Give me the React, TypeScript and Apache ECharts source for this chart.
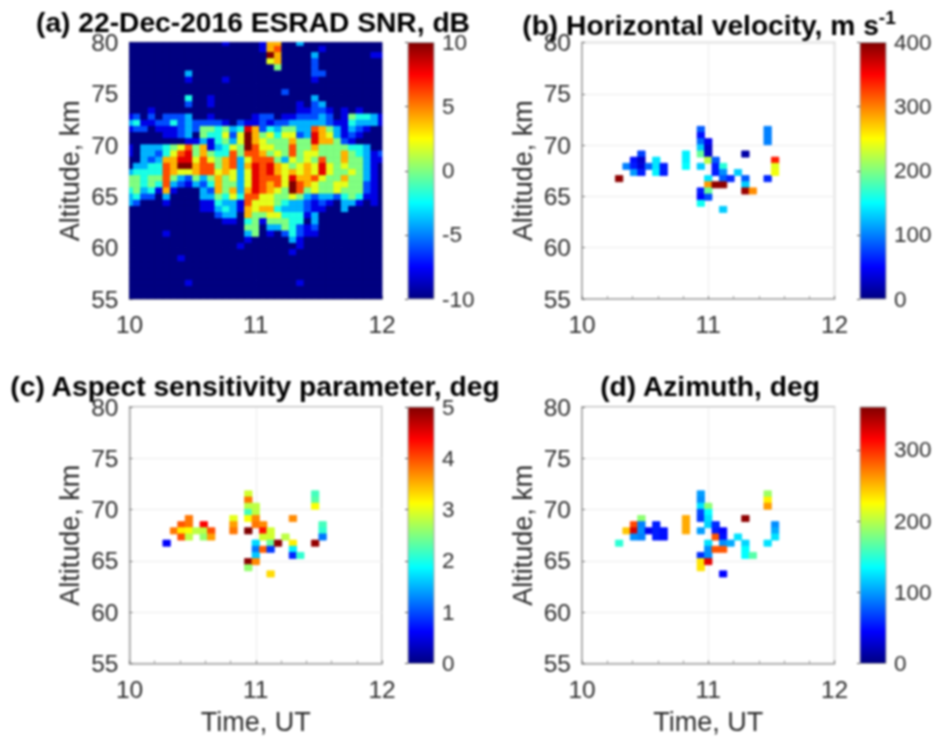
import React, { useEffect, useRef } from "react";
import * as echarts from "echarts";

const FONT = "Liberation Sans";
const JET = ["#000080", "#0000ff", "#0080ff", "#00ffff", "#80ff80", "#ffff00", "#ff8000", "#ff0000", "#800000"];

// Time and altitude grid of the radar cells
const START_HOUR = 10;
const HOUR_STEP = 2 / 34;
const TOP_ALT = 79.93;
const ALT_STEP = 0.6;

// Panel (a): SNR class per cell, one string per altitude row from the top, 35 columns.
// Class 0..a stands for -10, -8, ... 10 dB.
const snrRows = [
  "00000 00000 00010 00017 70030 00000 00000",
  "00000 00000 00000 00017 80000 01000 00000",
  "00000 00000 00000 0000a 70000 30000 00011",
  "00000 00000 00000 00006 70000 20000 00000",
  "00000 00000 00000 00000 50000 20000 00000",
  "00000 00030 00000 00000 00000 22000 00000",
  "00000 00010 00010 00000 00000 10000 00000",
  "00000 00000 00000 00000 00000 00000 00000",
  "00000 00000 00000 00000 02000 00000 00000",
  "00000 00040 01000 00000 00000 30000 00000",
  "00000 00020 01000 00000 00010 23000 00000",
  "00010 00000 00000 00000 00011 22101 01000",
  "12020 22230 01000 00122 01122 23201 54431",
  "34112 24232 22210 21121 22333 33211 43331",
  "12201 11232 55453 49724 35533 87531 32100",
  "00000 11230 54462 6a756 46623 97631 21000",
  "00000 00011 31453 6a765 55755 97752 10000",
  "10333 45685 71346 5a866 55855 75555 44300",
  "10332 46895 75448 58875 65856 65557 54312",
  "00323 77996 86578 36888 53656 58557 55311",
  "03344 87aa7 88578 37989 76567 69656 55310",
  "34444 87667 88676 36989 76767 69655 65310",
  "55455 85325 35756 36988 86977 86557 55310",
  "55454 83213 24755 36987 86a87 65566 55210",
  "45341 71000 32757 37987 65a85 65565 55210",
  "34220 30000 33546 48866 55653 23324 54110",
  "32000 10000 11433 18666 54332 12103 31010",
  "00000 00000 11343 17677 43332 11003 00000",
  "00000 00000 00233 07556 64441 30000 00000",
  "00000 00000 00011 04515 55440 30000 00000",
  "00000 00000 00000 05503 35421 20000 00000",
  "00000 10000 00000 03501 02421 10000 00000",
  "00000 00000 00000 01000 00310 00000 00000",
  "00000 00000 00000 10000 00010 00000 00000",
  "00000 00000 00000 00000 00100 00000 00000",
  "00000 00100 00000 00000 00000 00000 00000",
  "00000 00000 00000 00000 00000 00000 00000",
  "00000 00000 00000 00000 00000 00000 00000",
  "00000 00000 00000 00000 00000 00000 00000",
  "00000 00010 00000 00000 00010 00000 00000",
  "00000 00000 00000 00000 00000 00000 00000",
  "00000 00000 00000 00000 00000 00000 00000",
];

// Panels (b)-(d): column index, row index and the three values for each valid cell
const cellCol = [5, 8, 7, 8, 10, 6, 7, 8, 9, 10, 11, 7, 8, 10, 11, 14, 14, 14, 16, 16, 16, 16, 16, 16, 16, 16, 16, 17, 17, 17, 17, 17, 17, 17, 17, 18, 18, 18, 18, 19, 19, 19, 19, 19, 20, 21, 22, 22, 22, 22, 23, 25, 25, 25, 25, 26, 26, 26];
const cellRow = [22, 18, 19, 19, 19, 20, 20, 20, 20, 20, 20, 21, 21, 21, 21, 18, 19, 20, 14, 15, 16, 17, 18, 20, 24, 25, 26, 16, 17, 18, 19, 22, 23, 24, 25, 19, 20, 21, 23, 20, 21, 22, 23, 27, 22, 21, 18, 22, 23, 24, 24, 14, 15, 16, 22, 19, 20, 21];
const velocity = [395, 75, 55, 30, 140, 100, 60, 35, 90, 140, 60, 110, 60, 145, 60, 145, 145, 150, 85, 55, 90, 130, 190, 130, 60, 50, 155, 45, 30, 30, 225, 140, 290, 190, 80, 85, 60, 60, 395, 165, 105, 85, 395, 130, 65, 130, 15, 85, 130, 390, 295, 100, 100, 100, 65, 340, 240, 245];
const aspect = [0.6, 3.8, 3.95, 3.8, 4.4, 3.8, 3.2, 3.1, 2.8, 2.8, 4.0, 4.0, 2.8, 2.6, 3.6, 3.0, 3.6, 3.8, 2.9, 3.8, 2.8, 2.2, 3.1, 5.0, null, 4.95, 2.6, 2.8, 2.8, 3.7, 3.8, 1.7, 1.2, 1.6, 3.7, 3.7, 4.3, 2.9, 3.9, 2.9, 2.9, 2.4, 0.9, 3.3, 4.95, 2.8, 3.7, 3.2, 1.8, 0.8, 2.1, 2.2, 2.3, 3.1, 4.9, 2.2, 2.1, 1.2];
const azimuth = [150, 185, 290, 90, 55, 245, 330, 95, 40, 55, 50, 95, 90, 55, 50, 255, 255, 255, 100, 95, 125, 70, 65, 100, 60, 235, 235, 185, 135, 125, 120, 125, 95, 95, 325, 60, 55, 285, 285, 45, 50, 95, 285, 45, 105, 125, 355, 120, 135, 135, 165, 190, 230, 260, 125, 95, 105, 125];

const titles = [
  "(a) 22-Dec-2016 ESRAD SNR, dB",
  "{t|(b) Horizontal velocity, m s}{s|-1}",
  "(c) Aspect sensitivity parameter, deg",
  "(d) Azimuth, deg",
];
const titleCentres = [248, 704, 250, 705];
const titleTops = [3, 3, 367, 367];
const barRanges = [[-10, 10, 5], [0, 400, 100], [0, 5, 1], [0, 360, 100]];
const plotLefts = [129.5, 582, 129.5, 582];
const barLefts = [408, 860, 408, 860];
const plotTops = [42.5, 42.5, 407, 407];
const plotColours = ["#000080", "#fff", "#fff", "#fff"];
const PLOT_W = 252.5;
const PLOT_H = 256.5;
const BAR_W = 26;

const TITLE_SIZE = 28.2;
const NAME_SIZE = 27;
const TICK_SIZE = 24.5;
const BAR_TICK_SIZE = 22.5;
const TITLE_COLOUR = "#000";
const TEXT = "#2e2e2e";
const AXIS = "#a6a6a6";

const snrClass = "0123456789a";
const snrData: number[][] = [];
snrRows.forEach((line, r) => {
  line.replace(/ /g, "").split("").forEach((ch, k) => {
    snrData.push([START_HOUR + k * HOUR_STEP, TOP_ALT - r * ALT_STEP, -10 + 2 * snrClass.indexOf(ch)]);
  });
});
const cellData = (vals: (number | null)[]) =>
  vals.flatMap((v, i) => (v === null ? [] : [[START_HOUR + cellCol[i] * HOUR_STEP, TOP_ALT - cellRow[i] * ALT_STEP, v]]));
const panelData = [snrData, cellData(velocity), cellData(aspect), cellData(azimuth)];

const renderCell = (params: any, api: any) => {
  const p = api.coord([api.value(0), api.value(1)]);
  const s = api.size([HOUR_STEP, ALT_STEP]);
  const cs = params.coordSys;
  const shape = echarts.graphic.clipRectByRect(
    { x: p[0] - s[0] / 2, y: p[1] - s[1] / 2, width: s[0], height: s[1] },
    { x: cs.x, y: cs.y, width: cs.width, height: cs.height }
  );
  if (!shape) return null;
  const fill = api.visual("color");
  return { type: "rect", shape, style: { fill, stroke: fill, lineWidth: 0.8 } };
};

const renderBar = (_: any, api: any) => {
  const a = api.coord([0, api.value(1)]);
  const b = api.coord([1, api.value(0)]);
  return {
    type: "rect",
    shape: { x: a[0], y: a[1], width: b[0] - a[0], height: b[1] - a[1] },
    style: {
      fill: new echarts.graphic.LinearGradient(0, 0, 0, 1, JET.map((c, i) => ({ offset: 1 - i / (JET.length - 1), color: c })).reverse()),
      stroke: AXIS,
      lineWidth: 1,
    },
  };
};

function buildOption() {
  const grid: any[] = [];
  const xAxis: any[] = [];
  const yAxis: any[] = [];
  const series: any[] = [];
  const visualMap: any[] = [];
  const title: any[] = [];
  titles.forEach((t, i) => {
    const [lo, hi] = barRanges[i];
    title.push({
      text: t,
      left: titleCentres[i],
      top: titleTops[i],
      textAlign: "center",
      textStyle: {
        fontFamily: FONT,
        fontWeight: "bold",
        fontSize: TITLE_SIZE,
        color: TITLE_COLOUR,
        rich: {
          t: { fontFamily: FONT, fontWeight: "bold", fontSize: TITLE_SIZE, color: TITLE_COLOUR },
          s: { fontFamily: FONT, fontWeight: "bold", fontSize: 19, color: TITLE_COLOUR, verticalAlign: "top", padding: [0, 0, 14, 0] },
        },
      },
    });
    grid.push({
      left: plotLefts[i], top: plotTops[i], width: PLOT_W, height: PLOT_H,
      show: true, borderColor: AXIS, borderWidth: 1.5, backgroundColor: plotColours[i],
    });
    xAxis.push({
      type: "value", gridIndex: i, min: 10, max: 12, interval: 1,
      name: i >= 2 ? "Time, UT" : "", nameLocation: "middle", nameGap: 45,
      nameTextStyle: { fontFamily: FONT, fontSize: NAME_SIZE, color: TEXT },
      axisLine: { show: true, lineStyle: { color: AXIS, width: 1.5 } },
      axisTick: { show: true, inside: true, length: 3, lineStyle: { color: "#777" } },
      minorTick: { show: true, splitNumber: 5, length: 3, lineStyle: { color: "#999" } },
      axisLabel: { fontFamily: FONT, fontSize: TICK_SIZE, color: TEXT, margin: 13, hideOverlap: false },
      splitLine: { show: true, lineStyle: { color: "#ececec", width: 1 } },
    });
    yAxis.push({
      type: "value", gridIndex: i, min: 55, max: 80, interval: 5,
      name: "Altitude, km", nameLocation: "middle", nameGap: 46,
      nameTextStyle: { fontFamily: FONT, fontSize: NAME_SIZE, color: TEXT },
      axisLine: { show: true, lineStyle: { color: AXIS, width: 1.5 } },
      axisTick: { show: true, inside: true, length: 3, lineStyle: { color: "#777" } },
      axisLabel: { fontFamily: FONT, fontSize: TICK_SIZE, color: TEXT, margin: 11 },
      splitLine: { show: true, lineStyle: { color: "#ececec", width: 1 } },
    });
    series.push({
      type: "custom", xAxisIndex: i, yAxisIndex: i, renderItem: renderCell,
      data: panelData[i], encode: { x: 0, y: 1 }, silent: true,
    });
    visualMap.push({
      show: false, type: "continuous", min: lo, max: hi, dimension: 2, seriesIndex: i,
      inRange: { color: JET },
    });
  });
  titles.forEach((_, i) => {
    const [lo, hi, step] = barRanges[i];
    const g = grid.length;
    grid.push({ left: barLefts[i], top: plotTops[i], width: BAR_W, height: PLOT_H });
    xAxis.push({ type: "value", gridIndex: g, min: 0, max: 1, show: false });
    yAxis.push({
      type: "value", gridIndex: g, position: "right", min: lo, max: hi, interval: step,
      axisLine: { show: false },
      axisTick: { show: true, inside: true, length: 3, lineStyle: { color: "#555" } },
      axisLabel: { fontFamily: FONT, fontSize: BAR_TICK_SIZE, color: TEXT, margin: 8, showMaxLabel: hi % step === 0 },
      splitLine: { show: false },
      z: 5,
    });
    series.push({
      type: "custom", xAxisIndex: g, yAxisIndex: g, renderItem: renderBar,
      data: [[lo, hi]], encode: { y: [0, 1] }, silent: true, z: 1,
    });
  });
  return { animation: false, backgroundColor: "#fff", title, grid, xAxis, yAxis, series, visualMap };
}

export default function App() {
  const ref = useRef<HTMLDivElement>(null);
  useEffect(() => {
    const chart = echarts.init(ref.current!, undefined, { renderer: "svg" });
    chart.setOption(buildOption() as any);
    return () => chart.dispose();
  }, []);
  return <div ref={ref} style={{ position: "absolute", left: 0, top: 0, width: 936, height: 742, filter: "blur(0.9px)" }} />;
}
